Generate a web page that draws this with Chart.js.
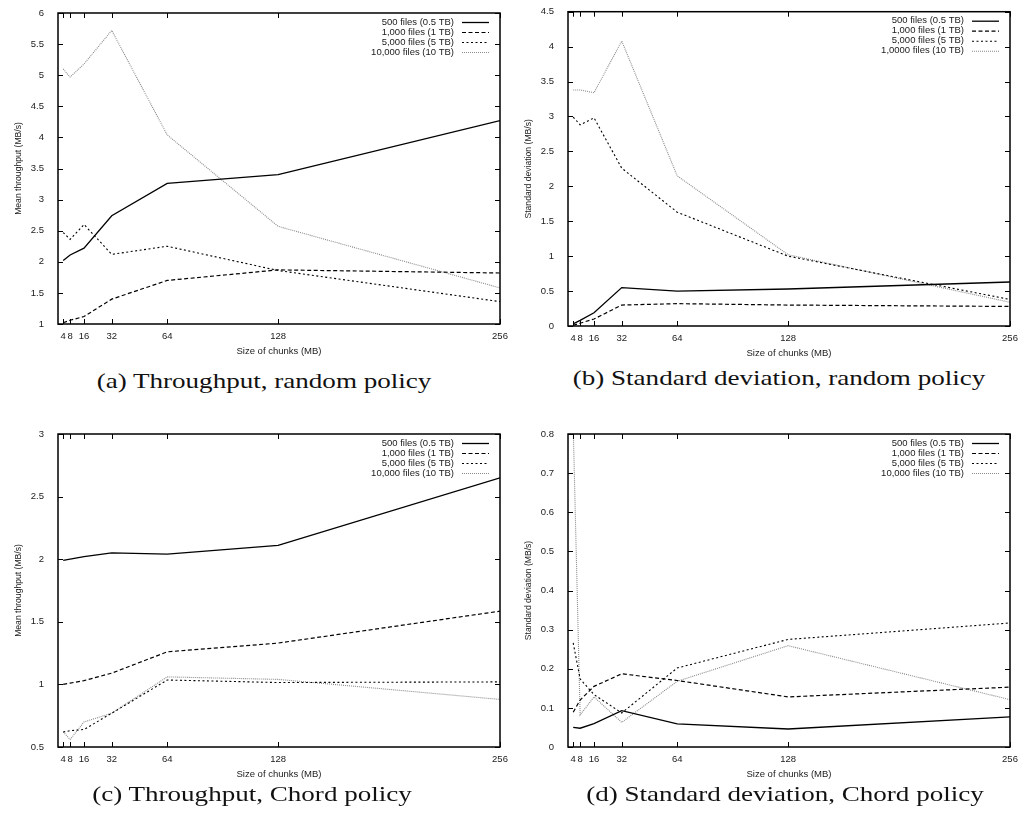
<!DOCTYPE html>
<html>
<head>
<meta charset="utf-8">
<title>Chunk size experiments</title>
<script src="https://cdn.jsdelivr.net/npm/chart.js@4.4.0/dist/chart.umd.min.js"></script>
<style>
    body {
        margin: 0;
        background: #fff;
        width: 1021px;
        height: 814px;
        position: relative;
        overflow: hidden;
    }
    canvas {
        position: absolute;
    }
    .caption {
        position: absolute;
        width: 500px;
        text-align: center;
        font-family: "Liberation Serif", serif;
        font-size: 22px;
        line-height: 24px;
        color: #111;
        white-space: nowrap;
        transform: scaleX(1.23);
    }
</style>
</head>
<body>
<canvas id="chartA" width="510" height="360" style="left:0;top:0"></canvas>
<canvas id="chartB" width="511" height="362" style="left:510px;top:0"></canvas>
<canvas id="chartC" width="510" height="362" style="left:0;top:421px"></canvas>
<canvas id="chartD" width="511" height="362" style="left:510px;top:421px"></canvas>
<div class="caption" style="left:14px;top:369px">(a) Throughput, random policy</div>
<div class="caption" style="left:529px;top:366px">(b) Standard deviation, random policy</div>
<div class="caption" style="left:2px;top:782px">(c) Throughput, Chord policy</div>
<div class="caption" style="left:535px;top:782px">(d) Standard deviation, Chord policy</div>
<script>
/* Chunk sizes (MB) on the x axis */
const chunkSizes = [4, 8, 16, 32, 64, 128, 256];

/* Key labels */
const fileLabels = ['500 files (0.5 TB)', '1,000 files (1 TB)', '5,000 files (5 TB)', '10,000 files (10 TB)'];
const fileLabelsB = ['500 files (0.5 TB)', '1,000 files (1 TB)', '5,000 files (5 TB)', '1,0000 files (10 TB)'];

/* Y tick labels */
const ticksA = [1, 1.5, 2, 2.5, 3, 3.5, 4, 4.5, 5, 5.5, 6];
const ticksB = [0, 0.5, 1, 1.5, 2, 2.5, 3, 3.5, 4, 4.5];
const ticksC = [0.5, 1, 1.5, 2, 2.5, 3];
const ticksD = [0, 0.1, 0.2, 0.3, 0.4, 0.5, 0.6, 0.7, 0.8];

/* (a) Mean throughput, random policy */
const randomMean500 = [2.02, 2.11, 2.22, 2.74, 3.26, 3.40, 4.27];
const randomMean1000 = [1.02, 1.06, 1.12, 1.40, 1.70, 1.87, 1.82];
const randomMean5000 = [2.47, 2.36, 2.60, 2.12, 2.25, 1.86, 1.36];
const randomMean10000 = [5.10, 4.97, 5.18, 5.72, 4.04, 2.57, 1.58];

/* (b) Standard deviation, random policy */
const randomStd500 = [0.03, 0.08, 0.19, 0.55, 0.50, 0.53, 0.63];
const randomStd1000 = [0.01, 0.04, 0.10, 0.30, 0.32, 0.30, 0.28];
const randomStd5000 = [2.99, 2.88, 2.98, 2.26, 1.63, 1.00, 0.38];
const randomStd10000 = [3.38, 3.38, 3.34, 4.08, 2.15, 1.02, 0.34];

/* (c) Mean throughput, Chord policy */
const chordMean500 = [1.99, 2.00, 2.02, 2.05, 2.04, 2.11, 2.65];
const chordMean1000 = [1.00, 1.01, 1.03, 1.09, 1.26, 1.33, 1.585];
const chordMean5000 = [0.62, 0.63, 0.64, 0.77, 1.035, 1.015, 1.02];
const chordMean10000 = [0.62, 0.56, 0.70, 0.77, 1.06, 1.04, 0.88];

/* (d) Standard deviation, Chord policy */
const chordStd500 = [0.050, 0.048, 0.060, 0.093, 0.059, 0.046, 0.077];
const chordStd1000 = [0.089, 0.120, 0.155, 0.187, 0.170, 0.128, 0.153];
const chordStd5000 = [0.266, 0.174, 0.134, 0.087, 0.202, 0.275, 0.317];
const chordStd10000 = [0.82, 0.082, 0.128, 0.063, 0.168, 0.259, 0.121];

/* Line styles of the four series, gnuplot-like */
const lineStyles = [
    {color: '#000', width: 1.3, dash: []},
    {color: '#000', width: 1.2, dash: [4, 2.5]},
    {color: '#000', width: 1.1, dash: [2, 2.5]},
    {color: '#8a8a8a', width: 1.1, dash: [1, 1]}
];

const tickFont = {family: 'Liberation Sans', size: 9.5};
const textColor = '#1a1a1a';

/* Frame, inward ticks on all four sides and the key */
const gnuplotFrame = {
    id: 'gnuplotFrame',
    afterDatasetsDraw(chart) {
        const {ctx, chartArea: a, scales} = chart;
        ctx.save();
        ctx.strokeStyle = '#000';
        ctx.lineWidth = 1;
        ctx.setLineDash([]);
        ctx.beginPath();
        scales.x.ticks.forEach(function(t) {
            const px = Math.round(scales.x.getPixelForValue(t.value)) + 0.5;
            ctx.moveTo(px, a.bottom);
            ctx.lineTo(px, a.bottom - 5);
            ctx.moveTo(px, a.top);
            ctx.lineTo(px, a.top + 5);
        });
        scales.y.ticks.forEach(function(t) {
            const py = Math.round(scales.y.getPixelForValue(t.value)) + 0.5;
            ctx.moveTo(a.left, py);
            ctx.lineTo(a.left + 5, py);
            ctx.moveTo(a.right, py);
            ctx.lineTo(a.right - 5, py);
        });
        ctx.stroke();
        ctx.lineWidth = 1.5;
        ctx.strokeRect(a.left, a.top, a.right - a.left, a.bottom - a.top);

        ctx.font = '9.5px "Liberation Sans"';
        ctx.textAlign = 'right';
        ctx.textBaseline = 'middle';
        chart.data.datasets.forEach(function(ds, i) {
            const y = a.top + 9 + i * 10;
            ctx.fillStyle = textColor;
            ctx.fillText(ds.label, a.right - 46, y);
            ctx.strokeStyle = ds.borderColor;
            ctx.lineWidth = ds.borderWidth;
            ctx.setLineDash(ds.borderDash);
            ctx.beginPath();
            ctx.moveTo(a.right - 38, y + 0.5);
            ctx.lineTo(a.right - 11, y + 0.5);
            ctx.stroke();
        });
        ctx.restore();
    }
};

function makeChart(id, yTitle, yTicks, labels, series, padTop, padRight) {
    const ctx = document.getElementById(id).getContext('2d');
    const datasets = series.map(function(values, i) {
        const st = lineStyles[i];
        return {
            label: labels[i],
            data: chunkSizes.map(function(x, j) { return {x: x, y: values[j]}; }),
            borderColor: st.color,
            borderWidth: st.width,
            borderDash: st.dash,
            pointRadius: 0,
            tension: 0,
            fill: false
        };
    });
    return new Chart(ctx, {
        type: 'line',
        data: {datasets: datasets},
        options: {
            responsive: false,
            animation: false,
            devicePixelRatio: 1,
            layout: {padding: {left: 0, right: padRight, top: padTop, bottom: 0}},
            plugins: {legend: {display: false}, tooltip: {enabled: false}},
            scales: {
                x: {
                    type: 'linear',
                    min: 1,
                    max: 256,
                    afterBuildTicks: function(scale) {
                        scale.ticks = chunkSizes.map(function(v) { return {value: v}; });
                    },
                    afterFit: function(scale) { scale.height = 36; },
                    grid: {display: false},
                    border: {display: false},
                    ticks: {
                        autoSkip: false,
                        maxRotation: 0,
                        padding: -1,
                        color: textColor,
                        font: tickFont,
                        callback: function(v) { return String(v); }
                    },
                    title: {
                        display: true,
                        text: 'Size of chunks (MB)',
                        color: textColor,
                        font: {family: 'Liberation Sans', size: 9.5},
                        padding: {top: 0, bottom: 3}
                    }
                },
                y: {
                    min: yTicks[0],
                    max: yTicks[yTicks.length - 1],
                    afterBuildTicks: function(scale) {
                        scale.ticks = yTicks.map(function(v) { return {value: v}; });
                    },
                    afterFit: function(scale) { scale.width = 58; },
                    grid: {display: false},
                    border: {display: false},
                    ticks: {
                        padding: 6,
                        color: textColor,
                        font: tickFont,
                        callback: function(v) { return String(+v.toFixed(2)); }
                    },
                    title: {
                        display: true,
                        text: yTitle,
                        color: textColor,
                        font: {family: 'Liberation Sans', size: 8.6},
                        padding: {top: 13, bottom: 0}
                    }
                }
            }
        },
        plugins: [gnuplotFrame]
    });
}

makeChart('chartA', 'Mean throughput (MB/s)', ticksA, fileLabels,
    [randomMean500, randomMean1000, randomMean5000, randomMean10000], 13, 10);
makeChart('chartB', 'Standard deviation (MB/s)', ticksB, fileLabelsB,
    [randomStd500, randomStd1000, randomStd5000, randomStd10000], 11, 11);
makeChart('chartC', 'Mean throughput (MB/s)', ticksC, fileLabels,
    [chordMean500, chordMean1000, chordMean5000, chordMean10000], 13, 10);
makeChart('chartD', 'Standard deviation (MB/s)', ticksD, fileLabels,
    [chordStd500, chordStd1000, chordStd5000, chordStd10000], 13, 11);
</script>
</body>
</html>
